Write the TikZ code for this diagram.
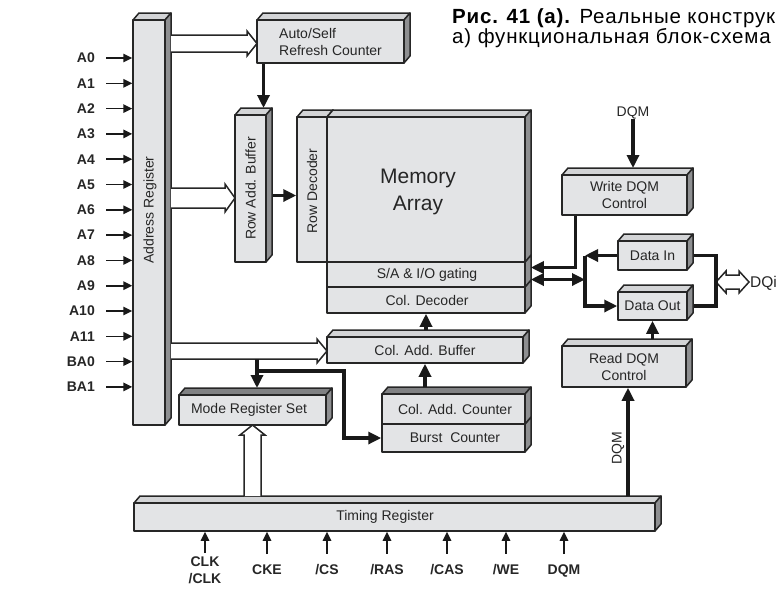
\documentclass[tikz,border=0pt]{standalone}
\usepackage{fontspec}
\setmainfont{Liberation Sans}
\newfontfamily\capfont[LetterSpace=4.0]{Liberation Sans}
\usetikzlibrary{arrows.meta,calc}

\definecolor{facec}{HTML}{E3E4E6}
\definecolor{topc}{HTML}{D3D4D6}
\definecolor{topdk}{HTML}{808183}
\definecolor{sidec}{HTML}{8E8F91}
\definecolor{edgec}{HTML}{262626}

% --- 3D block: name, x1, y1, x2, y2, top colour ---
\newcommand{\cubebox}[6]{%
  \filldraw[face line, fill=#6] (#2,#3) -- ++(6,-7) -- ({#4+6},{#3-7}) -- (#4,#3) -- cycle;
  \filldraw[face line, fill=sidec] (#4,#3) -- ({#4+6},{#3-7}) -- ({#4+6},{#5-7}) -- (#4,#5) -- cycle;
  \node[blkface, minimum width={#4-#2}, minimum height={#5-#3}] (#1) at ({(#2+#4)/2},{(#3+#5)/2}) {};
  \coordinate (#1-top) at ({(#2+#4)/2+3},{#3-7});
}
% --- hollow arrows: x start, x tip, y top, y bottom ---
\newcommand{\hollowright}[4]{%
  \filldraw[hollow] (#1,#3) -- ({#2-10},#3) -- ({#2-10},{#3-4}) -- (#2,{(#3+#4)/2})
    -- ({#2-10},{#4+4}) -- ({#2-10},#4) -- (#1,#4);
}
% x left, x right, y start, y tip
\newcommand{\hollowup}[4]{%
  \filldraw[hollow] (#1,#3) -- (#1,{#4+10}) -- ({#1-4},{#4+10}) -- ({(#1+#2)/2},#4)
    -- ({#2+4},{#4+10}) -- (#2,{#4+10}) -- (#2,#3);
}
% x left tip, x right tip, y top, y bottom
\newcommand{\hollowboth}[4]{%
  \filldraw[hollow] (#1,{(#3+#4)/2}) -- ({#1+10},{#3-4}) -- ({#1+10},#3) -- ({#2-10},#3)
    -- ({#2-10},{#3-4}) -- (#2,{(#3+#4)/2}) -- ({#2-10},{#4+4}) -- ({#2-10},#4)
    -- ({#1+10},#4) -- ({#1+10},{#4+4}) -- cycle;
}

\begin{document}
\begin{tikzpicture}[x=1pt, y=-1pt, >={Triangle[length=13pt,width=12pt]},
  face line/.style={draw=edgec, line width=1.5pt, line join=round},
  blkface/.style={face line, fill=facec, inner sep=0pt},
  lbl/.style={font=\fontsize{14}{17}\selectfont, text=black!85, align=center, inner sep=0pt},
  conn/.style={line width=3.2pt, draw=black!90},
  pinarr/.style={line width=1.6pt, draw=black!90, -{Triangle[length=9pt,width=8.5pt]}},
  pinlbl/.style={font=\fontsize{14}{17}\selectfont\bfseries, text=black!85, inner sep=0pt, align=center},
  hollow/.style={draw=edgec, line width=1.5pt, fill=white, line join=miter}]

\useasboundingbox (0,0) rectangle (778,590);

% --- caption ---
\node[anchor=base west, inner sep=0pt, font=\capfont\fontsize{20.5}{22}\selectfont] (cap1) at (452,23) {\textbf{Рис. 41 (а).} Реальные конструк};
\node[anchor=base west, inner sep=0pt, font=\capfont\fontsize{20.5}{22}\selectfont] (cap2) at (452,43) {а) функциональная блок-схема};

% --- blocks ---
\cubebox{addr}{133}{20}{165}{425}{topc}
\node[lbl, rotate=90] (addr-lbl) at (150,210) {Address Register};

\cubebox{refresh}{257}{20}{404}{63}{topc}
\node[lbl, align=left, anchor=west] (refresh-lbl) at (279,42) {Auto/Self\\Refresh Counter};

\cubebox{rowbuf}{235}{115}{266}{262}{topc}
\node[lbl, rotate=90] (rowbuf-lbl) at (rowbuf) {Row Add. Buffer};

\cubebox{coldec}{327}{287}{525}{313}{topc}
\cubebox{sa}{327}{262}{525}{287}{topc}
\cubebox{rowdec}{297}{117}{327}{262}{topc}
\cubebox{mem}{327}{117}{525}{262}{topc}
\node[lbl, rotate=90] (rowdec-lbl) at (312,191) {Row Decoder};
\node[lbl, font=\fontsize{21}{27}\selectfont] (mem-lbl) at (418,192) {Memory\\Array};
\node[lbl] (sa-lbl) at (427,275) {S/A \& I/O gating};
\node[lbl] (coldec-lbl) at (427,300) {Col. Decoder};

\cubebox{caddbuf}{327}{337}{523}{363}{topc}
\node[lbl] (caddbuf-lbl) at (caddbuf) {Col. Add. Buffer};

\cubebox{mode}{179}{395}{326}{425}{topdk}
\node[lbl] (mode-lbl) at (249,410) {Mode Register Set};

\cubebox{burst}{382}{424}{525}{452}{topc}
\cubebox{counter}{382}{394}{525}{424}{topdk}
\node[lbl] (counter-lbl) at (455,409) {Col. Add. Counter};
\node[lbl] (burst-lbl) at (455,438) {Burst~~Counter};

\cubebox{timing}{134}{503}{655}{531}{topc}
\node[lbl] (timing-lbl) at (385,517) {Timing Register};

\cubebox{wdqm}{562}{175}{687}{215}{topc}
\node[lbl] (wdqm-lbl) at (wdqm) {Write DQM\\Control};
\cubebox{rdqm}{562}{346}{686}{387}{topc}
\node[lbl] (rdqm-lbl) at (rdqm) {Read DQM\\Control};
\cubebox{datain}{618}{241}{687}{270}{topc}
\node[lbl] (datain-lbl) at (datain) {Data In};
\cubebox{dataout}{618}{292}{687}{320}{topc}
\node[lbl] (dataout-lbl) at (dataout) {Data Out};

% --- hollow buses ---
\hollowright{171}{257}{35}{52}
\hollowright{171}{235}{188}{208}
\hollowright{171}{327}{343}{359}
\hollowup{244}{261}{496}{425}
\hollowboth{716}{749}{275}{289}
\node[lbl, font=\fontsize{15.5}{17}\selectfont, anchor=west] (dqi) at (750,283) {DQi};

% --- connectors ---
\draw[conn,->] ([xshift=10pt]refresh.south west -| rowbuf-top) -- ([xshift=10pt]rowbuf-top);
\draw[conn,->] ([shift={(6,7)}]rowbuf.east) coordinate (rb) -- (rb -| rowdec.west);
\draw[conn,->] (coldec.south |- caddbuf-top) -- (coldec.south);
\draw[conn,->] (caddbuf.south |- counter-top) -- (caddbuf.south);

\coordinate (brk) at (257,359);
\draw[conn,->] (brk) -- (brk |- mode-top);
\draw[conn,->] ([yshift=-12pt]brk) -- ++(87,0) |- (burst.west);

\node[lbl] (dqmtop) at (633,113) {DQM};
\draw[conn,->] (dqmtop.south) -- (dqmtop.south |- wdqm-top);
\draw[conn,->] ([xshift=14pt]wdqm.south west) |- ([shift={(5,-7)}]sa.east);
\coordinate (jn) at (585,279.5);
\draw[conn,<->] ([shift={(5,5)}]sa.east) -- (jn);
\draw[conn,->] (datain.west) -- (datain.west -| jn);
\draw[conn,->] (datain.west -| jn) -- (dataout.west -| jn) -- (dataout.west);
\coordinate (dqr) at (716,282);
\draw[conn] ([xshift=6pt]datain.east) -| (dqr) |- ([xshift=6pt]dataout.east);

\draw[conn,->] ([xshift=4pt]rdqm.south |- timing-top) -- ([xshift=4pt]rdqm.south);
\node[lbl, rotate=90] (dqm-lbl) at (618,448) {DQM};
\draw[conn,->] (dataout.south |- rdqm-top) -- (dataout.south);

% --- address pins ---
\foreach \txt [count=\i from 0] in {A0,A1,A2,A3,A4,A5,A6,A7,A8,A9,A10,A11,BA0,BA1}{
  \pgfmathsetmacro{\yy}{58+25.3*\i}
  \node[pinlbl, anchor=east] (pin\i) at (95,\yy) {\txt};
  \draw[pinarr] ([xshift=11pt]pin\i.east) -- (pin\i.east -| addr.west);
}

% --- control pins ---
\node[pinlbl, anchor=north] (clk) at (205,557) {CLK\\/CLK};
\node[pinlbl, anchor=base] (cke) at (267,574) {CKE};
\node[pinlbl, anchor=base] (cs) at (327,574) {/CS};
\node[pinlbl, anchor=base] (ras) at (387,574) {/RAS};
\node[pinlbl, anchor=base] (cas) at (447,574) {/CAS};
\node[pinlbl, anchor=base] (we) at (506,574) {/WE};
\node[pinlbl, anchor=base] (dqmin) at (564,574) {DQM};
\draw[pinarr] ([yshift=4pt]clk.north) -- (clk.north |- timing.south);
\foreach \p in {cke,cs,ras,cas,we,dqmin}
  \draw[pinarr] ([yshift=10pt]\p.north) -- (\p.north |- timing.south);

\end{tikzpicture}
\end{document}
